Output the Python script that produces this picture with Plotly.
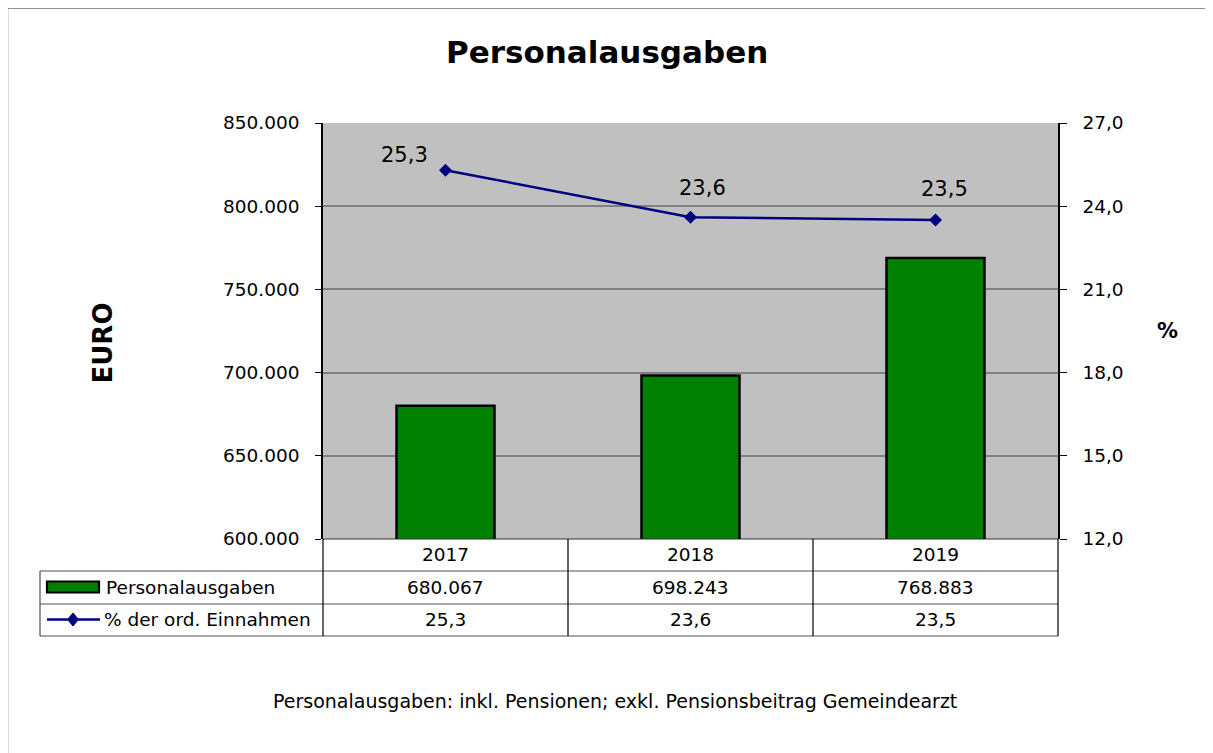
import plotly.graph_objects as go

# ---- data ----
years = ["2017", "2018", "2019"]
personal = [680067, 698243, 768883]
pct = [25.3, 23.6, 23.5]
left_ticks = [600000, 650000, 700000, 750000, 800000, 850000]
right_ticks = [12, 15, 18, 21, 24, 27]
series_names = ["Personalausgaben", "% der ord. Einnahmen"]
title_text = "Personalausgaben"
footnote_text = "Personalausgaben: inkl. Pensionen; exkl. Pensionsbeitrag Gemeindearzt"

# page offset (browser body margin)
OFF = 8
W, H = 1213 - OFF, 753 - OFF
L, R, T, B = 323 - OFF, 1058 - OFF, 123 - OFF, 539 - OFF
PW, PH = R - L, B - T
FONT = "DejaVu Sans, Verdana, sans-serif"


def px(x):
    """screen x -> paper"""
    return (x - OFF - L) / PW


def py(y):
    """screen y -> paper"""
    return (B - (y - OFF)) / PH


def fmt_int(v):
    return f"{v:,.0f}".replace(",", ".")


def fmt_dec(v):
    return f"{v:.1f}".replace(".", ",")


xs = list(range(len(years)))

fig = go.Figure()
fig.add_trace(go.Bar(
    x=xs, y=personal, width=0.4, name=series_names[0],
    marker=dict(color="#008000", line=dict(color="black", width=2.5)),
    hoverinfo="skip",
))
fig.add_trace(go.Scatter(
    x=xs, y=pct, yaxis="y2", mode="lines+markers", name=series_names[1],
    line=dict(color="#000080", width=2.5),
    marker=dict(symbol="diamond", size=10, color="#000080"),
    hoverinfo="skip",
))

shapes = []
annotations = []

# outer frame
shapes.append(dict(type="rect", xref="paper", yref="paper",
                   x0=px(7.5), x1=px(1240), y0=py(8), y1=py(790),
                   line=dict(color="#6f6f6f", width=1.5), layer="below"))

# table lines
hcol = "#505050"
col_edges = [L + PW * i / len(years) for i in range(len(years) + 1)]
row_y = [539, 571, 604, 636]
shapes.append(dict(type="line", xref="paper", yref="paper", x0=0, x1=1,
                   y0=py(539), y1=py(539), line=dict(color="#303030", width=1.2)))
for yy in row_y[1:]:
    shapes.append(dict(type="line", xref="paper", yref="paper", x0=px(40), x1=1,
                       y0=py(yy), y1=py(yy), line=dict(color=hcol, width=1.2)))
for xe in col_edges:
    xp = (xe - L) / PW
    shapes.append(dict(type="line", xref="paper", yref="paper", x0=xp, x1=xp,
                       y0=py(539), y1=py(636), line=dict(color="black", width=1.2)))
shapes.append(dict(type="line", xref="paper", yref="paper", x0=px(40), x1=px(40),
                   y0=py(571), y1=py(636), line=dict(color=hcol, width=1.2)))

# legend keys in table
shapes.append(dict(type="rect", xref="paper", yref="paper", x0=px(47), x1=px(99),
                   y0=py(592.5), y1=py(581.5), fillcolor="#008000",
                   line=dict(color="black", width=2.2)))
shapes.append(dict(type="line", xref="paper", yref="paper", x0=px(47), x1=px(100),
                   y0=py(619.5), y1=py(619.5), line=dict(color="#000080", width=2.5)))
cx, cy = px(73), py(619.5)
dx, dy = 5.5 / PW, 6.5 / PH
shapes.append(dict(type="path", xref="paper", yref="paper",
                   path=f"M {cx-dx} {cy} L {cx} {cy+dy} L {cx+dx} {cy} L {cx} {cy-dy} Z",
                   fillcolor="#000080", line=dict(color="#000080", width=1)))

tf = dict(family=FONT, size=18.5, color="black")
for i, yr in enumerate(years):
    annotations.append(dict(x=i, xref="x", y=py(554), yref="paper", text=yr,
                            showarrow=False, font=tf, xanchor="center", yanchor="middle"))
    annotations.append(dict(x=i, xref="x", y=py(587), yref="paper", text=fmt_int(personal[i]),
                            showarrow=False, font=tf, xanchor="center", yanchor="middle"))
    annotations.append(dict(x=i, xref="x", y=py(619), yref="paper", text=fmt_dec(pct[i]),
                            showarrow=False, font=tf, xanchor="center", yanchor="middle"))
annotations.append(dict(x=px(104), xref="paper", y=py(587), yref="paper", text=series_names[0],
                        showarrow=False, font=tf, xanchor="left", yanchor="middle"))
annotations.append(dict(x=px(102), xref="paper", y=py(619), yref="paper", text=series_names[1],
                        showarrow=False, font=tf, xanchor="left", yanchor="middle"))

# data labels of the line (offsets as in the reference)
label_shift = [(-41, 15), (12, 29), (9, 31)]
for i, v in enumerate(pct):
    sx, sy = label_shift[i]
    annotations.append(dict(x=i, xref="x", y=v, yref="y2", text=fmt_dec(v),
                            showarrow=False, xshift=sx, yshift=sy,
                            font=dict(family=FONT, size=21, color="black"),
                            xanchor="center", yanchor="middle"))

# axis titles
annotations.append(dict(x=px(102.5), xref="paper", y=py(343), yref="paper", text="<b>EURO</b>",
                        showarrow=False, textangle=-90,
                        font=dict(family=FONT, size=26, color="black"),
                        xanchor="center", yanchor="middle"))
annotations.append(dict(x=px(1167.5), xref="paper", y=py(331), yref="paper", text="<b>%</b>",
                        showarrow=False, font=dict(family=FONT, size=21, color="black"),
                        xanchor="center", yanchor="middle"))
# title
annotations.append(dict(x=px(606.5), xref="paper", y=py(52), yref="paper",
                        text=f"<b>{title_text}</b>", showarrow=False,
                        font=dict(family=FONT, size=31, color="black"),
                        xanchor="center", yanchor="middle"))
# footnote
annotations.append(dict(x=px(615), xref="paper", y=py(701), yref="paper",
                        text=footnote_text,
                        showarrow=False, font=dict(family=FONT, size=19, color="black"),
                        xanchor="center", yanchor="middle"))

fig.update_layout(
    width=W, height=H,
    margin=dict(l=L, r=W - R, t=T, b=H - B, pad=0),
    paper_bgcolor="white", plot_bgcolor="#C0C0C0",
    showlegend=False,
    font=dict(family=FONT, size=18.5, color="black"),
    xaxis=dict(range=[-0.5, len(years) - 0.5], showticklabels=False, showgrid=False,
               zeroline=False, showline=False, ticks=""),
    yaxis=dict(range=[left_ticks[0], left_ticks[-1]], tickvals=left_ticks,
               ticktext=[fmt_int(v) for v in left_ticks],
               showgrid=True, gridcolor="#808080", gridwidth=1.5,
               showline=True, linecolor="black", linewidth=1.5,
               ticks="outside", ticklen=6, tickcolor="black", ticklabelstandoff=12,
               tickfont=dict(family=FONT, size=18.5), zeroline=False),
    yaxis2=dict(range=[right_ticks[0], right_ticks[-1]], tickvals=right_ticks,
                ticktext=[fmt_dec(v) for v in right_ticks],
                overlaying="y", side="right", showgrid=False,
                showline=True, linecolor="black", linewidth=1.5,
                ticks="outside", ticklen=7, tickcolor="black", ticklabelstandoff=12,
                tickfont=dict(family=FONT, size=18.5), zeroline=False),
    shapes=shapes,
    annotations=annotations,
)

fig.write_html("out.html")
